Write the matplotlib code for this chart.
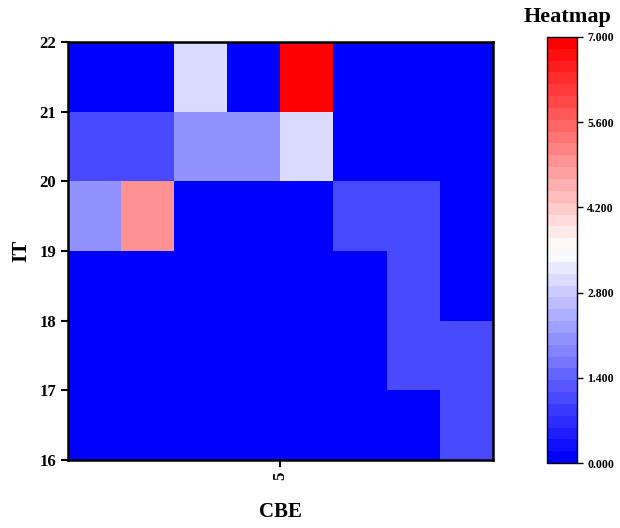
import numpy as np
import matplotlib
matplotlib.use("Agg")
import matplotlib.pyplot as plt
from matplotlib.colors import LinearSegmentedColormap, Normalize

# Data
x_edges = [1, 2, 3, 4, 5, 6, 7, 8, 9]
y_edges = [16, 17, 18, 19, 20, 21, 22]
# rows from bottom (16-17) to top (21-22)
row_16 = [0, 0, 0, 0, 0, 0, 0, 1]
row_17 = [0, 0, 0, 0, 0, 0, 1, 1]
row_18 = [0, 0, 0, 0, 0, 0, 1, 0]
row_19 = [2, 5, 0, 0, 0, 1, 1, 0]
row_20 = [1, 1, 2, 2, 3, 0, 0, 0]
row_21 = [0, 0, 3, 0, 7, 0, 0, 0]
x_ticks = [5]
y_ticks = [16, 17, 18, 19, 20, 21, 22]
cbar_ticks = [0, 1.4, 2.8, 4.2, 5.6, 7.0]

Z = np.array([row_16, row_17, row_18, row_19, row_20, row_21], dtype=float)

plt.rcParams['font.family'] = ['Liberation Serif', 'DejaVu Serif']
plt.rcParams['font.weight'] = 'bold'

cmap = LinearSegmentedColormap.from_list('bwr2', [(0, 0, 1), (1, 1, 1), (1, 0, 0)], N=36)
norm = Normalize(vmin=0, vmax=7)

fig = plt.figure(figsize=(6.2, 5.28), dpi=100)
ax = fig.add_axes([0.1097, 0.1288, 0.685, 0.7917])
mesh = ax.pcolormesh(x_edges, y_edges, Z, cmap=cmap, norm=norm)
ax.set_xlim(1, 9)
ax.set_ylim(16, 22)
ax.set_xticks(x_ticks)
ax.set_xticklabels([str(t) for t in x_ticks], rotation=90, fontsize=12, fontweight='bold')
ax.set_yticks(y_ticks)
ax.set_yticklabels([str(t) for t in y_ticks], fontsize=12, fontweight='bold')
ax.tick_params(direction='out', length=5, width=1.5)
for s in ax.spines.values():
    s.set_linewidth(1.8)
ax.set_xlabel('CBE', fontsize=15, fontweight='bold', labelpad=16)
ax.set_ylabel('IT', fontsize=15, fontweight='bold', labelpad=6)

cax = fig.add_axes([0.882, 0.123, 0.048, 0.807])
cb = fig.colorbar(mesh, cax=cax, ticks=cbar_ticks)
cb.ax.set_yticklabels(['%.3f' % t for t in cbar_ticks], fontsize=8.5, fontweight='bold')
cb.ax.tick_params(length=4, width=1)
cb.outline.set_linewidth(1)
fig.text(0.915, 0.968, 'Heatmap', ha='center', va='center', fontsize=16, fontweight='bold')

fig.savefig('out.png', dpi=100)
